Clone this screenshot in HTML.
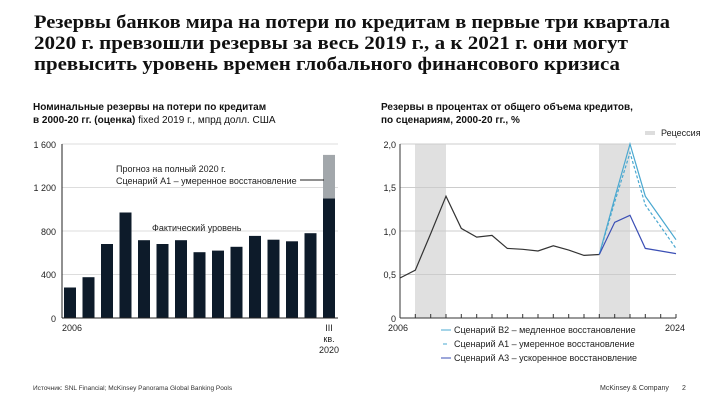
<!DOCTYPE html>
<html><head><meta charset="utf-8"><style>
body{margin:0;background:#fff;width:720px;height:405px;overflow:hidden}
svg{display:block}
.t{font-family:"Liberation Serif","Noto Serif CJK SC",serif;font-weight:bold;font-size:19px;fill:#111}
.s{font-family:"Liberation Sans","Noto Sans CJK SC",sans-serif;font-size:9px;fill:#222}
.h{font-family:"Liberation Sans","Noto Sans CJK SC",sans-serif;font-size:10px;font-weight:bold;fill:#111}
</style></head><body>
<svg width="720" height="405" xmlns="http://www.w3.org/2000/svg">
<text class="t" x="34" y="28" textLength="636" lengthAdjust="spacingAndGlyphs">Резервы банков мира на потери по кредитам в первые три квартала</text>
<text class="t" x="34" y="49" textLength="594" lengthAdjust="spacingAndGlyphs">2020 г. превзошли резервы за весь 2019 г., а к 2021 г. они могут</text>
<text class="t" x="34" y="70" textLength="586" lengthAdjust="spacingAndGlyphs">превысить уровень времен глобального  финансового кризиса</text>

<!-- left chart -->
<text class="h" x="33" y="110">Номинальные резервы на потери по кредитам</text>
<text class="h" x="33" y="123">в 2000-20 гг. (оценка) <tspan font-weight="normal">fixed 2019 г., мпрд долл. США</tspan></text>
<g stroke="#ddd" stroke-width="1">
<line x1="62" y1="144" x2="338" y2="144"/><line x1="62" y1="187.5" x2="338" y2="187.5"/>
<line x1="62" y1="231" x2="338" y2="231"/><line x1="62" y1="274.5" x2="338" y2="274.5"/>
</g>
<g class="s" text-anchor="end">
<text x="56" y="148">1 600</text><text x="56" y="191">1 200</text><text x="56" y="235">800</text>
<text x="56" y="278">400</text><text x="56" y="322">0</text>
</g>
<g fill="#0d1b2a">
<rect x="64" y="287.5" width="12" height="30.5"/>
<rect x="82.5" y="277.2" width="12" height="40.8"/>
<rect x="101" y="244" width="12" height="74"/>
<rect x="119.5" y="212.5" width="12" height="105.5"/>
<rect x="138" y="240.2" width="12" height="77.8"/>
<rect x="156.5" y="244" width="12" height="74"/>
<rect x="175" y="240.2" width="12" height="77.8"/>
<rect x="193.5" y="252.2" width="12" height="65.8"/>
<rect x="212" y="250.6" width="12" height="67.4"/>
<rect x="230.5" y="246.8" width="12" height="71.2"/>
<rect x="249" y="235.9" width="12" height="82.1"/>
<rect x="267.5" y="239.7" width="12" height="78.3"/>
<rect x="286" y="241.3" width="12" height="76.7"/>
<rect x="304.5" y="233.2" width="12" height="84.8"/>
<rect x="323" y="198.4" width="12" height="119.6"/>
</g>
<rect x="323" y="154.9" width="12" height="43.5" fill="#a2a7ab"/>
<line x1="62" y1="144" x2="62" y2="318" stroke="#222"/>
<line x1="62" y1="318" x2="338" y2="318" stroke="#222"/>
<text class="s" x="116" y="172">Прогноз на полный 2020 г.</text>
<text class="s" x="116" y="184">Сценарий А1 – умеренное восстановление</text>
<line x1="300" y1="180" x2="324" y2="180" stroke="#222"/>
<text class="s" x="152" y="231">Фактический уровень</text>
<text class="s" x="62" y="331">2006</text>
<g class="s" text-anchor="middle"><text x="329" y="331">III</text><text x="329" y="342">кв.</text><text x="329" y="353">2020</text></g>

<!-- right chart -->
<text class="h" x="381" y="110">Резервы в процентах от общего объема кредитов,</text>
<text class="h" x="381" y="123">по сценариям, 2000-20 гг., %</text>
<rect x="645" y="131" width="10" height="4" fill="#ddd"/>
<text class="s" x="661" y="136">Рецессия</text>
<rect x="415" y="144" width="31" height="174" fill="#e0e0e0"/>
<rect x="599" y="144" width="31" height="174" fill="#e0e0e0"/>
<g stroke="#ccc"><line x1="400" y1="144" x2="676" y2="144"/><line x1="400" y1="187.5" x2="676" y2="187.5"/><line x1="400" y1="231" x2="676" y2="231"/><line x1="400" y1="274.5" x2="676" y2="274.5"/></g>
<g class="s" text-anchor="end"><text x="396" y="148">2,0</text><text x="396" y="191">1,5</text><text x="396" y="235">1,0</text><text x="396" y="278">0,5</text><text x="396" y="322">0</text></g>
<line x1="400" y1="144" x2="400" y2="318" stroke="#333"/>
<line x1="400" y1="318" x2="676" y2="318" stroke="#333"/>
<g stroke="#333">
<line x1="415.3" y1="318" x2="415.3" y2="314"/><line x1="430.7" y1="318" x2="430.7" y2="314"/><line x1="446" y1="318" x2="446" y2="314"/><line x1="461.3" y1="318" x2="461.3" y2="314"/><line x1="476.7" y1="318" x2="476.7" y2="314"/><line x1="492" y1="318" x2="492" y2="314"/><line x1="507.3" y1="318" x2="507.3" y2="314"/><line x1="522.7" y1="318" x2="522.7" y2="314"/><line x1="538" y1="318" x2="538" y2="314"/><line x1="553.3" y1="318" x2="553.3" y2="314"/><line x1="568.7" y1="318" x2="568.7" y2="314"/><line x1="584" y1="318" x2="584" y2="314"/><line x1="599.3" y1="318" x2="599.3" y2="314"/><line x1="614.7" y1="318" x2="614.7" y2="314"/><line x1="630" y1="318" x2="630" y2="314"/><line x1="645.3" y1="318" x2="645.3" y2="314"/><line x1="660.7" y1="318" x2="660.7" y2="314"/><line x1="676" y1="318" x2="676" y2="314"/>
</g>
<polyline fill="none" stroke="#333" stroke-width="1.2" points="400,278 415.3,270.2 430.7,233.6 446,196.2 461.3,228.4 476.7,237.1 492,235.4 507.3,248.4 522.7,249.3 538,251 553.3,245.8 568.7,250.1 584,255.4 599.3,254.5"/>
<polyline fill="none" stroke="#4aa8d0" stroke-width="1.2" points="599.3,254.5 614.7,198 630,144 645.3,196.2 660.7,218 676,239.7"/>
<polyline fill="none" stroke="#4aa8d0" stroke-width="1.2" stroke-dasharray="3,2" points="599.3,254.5 614.7,202 630,152.7 645.3,205 660.7,226.6 676,248.4"/>
<polyline fill="none" stroke="#3b4fb5" stroke-width="1.2" points="599.3,254.5 614.7,222.3 630,215.3 645.3,248.4 660.7,251 676,253.6"/>
<text class="s" x="388" y="331">2006</text>
<text class="s" x="665" y="331">2024</text>
<line x1="441" y1="330" x2="451" y2="330" stroke="#4aa8d0"/>
<text class="s" x="454" y="333">Сценарий В2 – медленное восстановление</text>
<line x1="443" y1="344" x2="447" y2="344" stroke="#4aa8d0"/>
<text class="s" x="454" y="347">Сценарий А1 – умеренное восстановление</text>
<line x1="441" y1="358" x2="451" y2="358" stroke="#3b4fb5"/>
<text class="s" x="454" y="361">Сценарий А3 – ускоренное восстановление</text>

<text x="33" y="390" font-family="Liberation Sans,sans-serif" font-size="6.5" fill="#333">Источник: SNL Financial; McKinsey Panorama Global Banking Pools</text>
<text x="600" y="390" font-family="Liberation Sans,sans-serif" font-size="7" fill="#333">McKinsey &amp; Company</text>
<text x="682" y="390" font-family="Liberation Sans,sans-serif" font-size="7" fill="#333">2</text>
</svg>
</body></html>
